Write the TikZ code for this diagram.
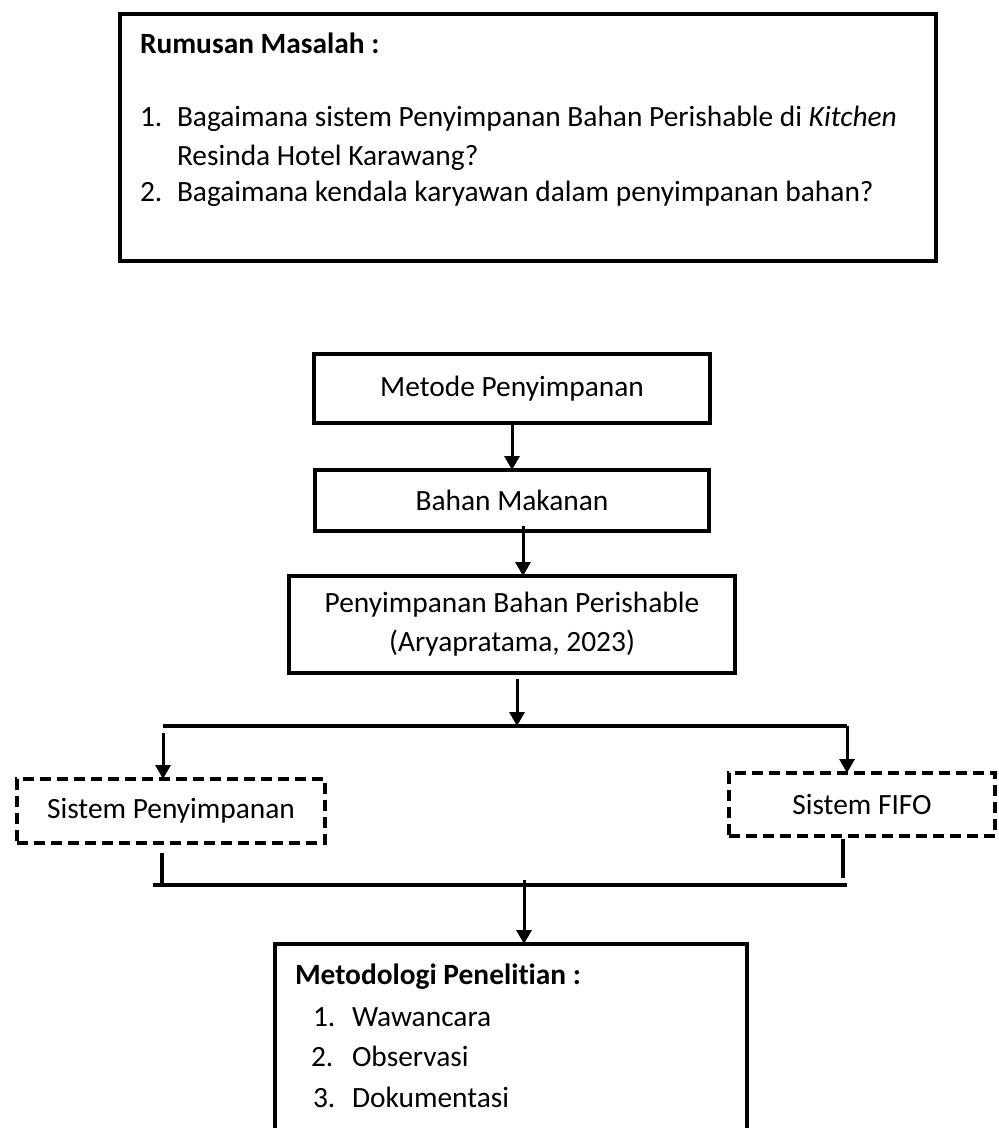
\documentclass[tikz,border=0pt]{standalone}
\usepackage{fontspec}
\setmainfont{Carlito}[Ligatures=NoCommon]
\usetikzlibrary{positioning,calc,arrows.meta}

\begin{document}
\begin{tikzpicture}[
        x=0.5pt, y=-0.5pt,
        every node/.style = {outer sep=0pt,font=\fontsize{14.7}{19.5}\selectfont},
        solidbox/.style = {draw,line width=2pt,inner sep=0pt,align=center},
        dashbox/.style = {solidbox,dash pattern=on 5.5pt off 3pt},
        textline/.style = {anchor=base west,inner sep=0pt},
        boldline/.style = {textline,font=\fontsize{14.7}{19.5}\selectfont\bfseries},
        arrowline/.style = {line width=1.5pt,-{Triangle[width=7.5pt,length=7pt]}},
        plainline/.style = {line width=1.8pt},
        ]
        \useasboundingbox (0,0) rectangle (998,1128);
        \clip (0,0) rectangle (998,1128);

        % rumusan masalah
        \node[solidbox,minimum width=408pt,minimum height=123.5pt] (box-rumusan) at (528,137.5) {};
        \node[boldline] (rumusan-title) at (140,54) {Rumusan Masalah :};
        \node[textline] (rumusan-no1) at (140,127) {1.};
        \node[textline] (rumusan-q1a) at (177,127) {Bagaimana sistem Penyimpanan Bahan Perishable di \textit{Kitchen}};
        \node[textline] (rumusan-q1b) at (177,166) {Resinda Hotel Karawang?};
        \node[textline] (rumusan-no2) at (140,202) {2.};
        \node[textline] (rumusan-q2) at (177,202) {Bagaimana kendala karyawan dalam penyimpanan bahan?};

        % alur utama
        \node[solidbox,minimum width=198pt,minimum height=34.5pt] (box-metode) at (512,388.5) {Metode Penyimpanan};
        \node[solidbox,minimum width=197pt,minimum height=30.5pt] (box-bahan) [below = 23.5pt of box-metode] {Bahan Makanan};
        \node[solidbox,minimum width=223pt,minimum height=48.5pt] (box-perishable) [below = 22.5pt of box-bahan] {Penyimpanan Bahan Perishable\\(Aryapratama, 2023)};
        \node[dashbox,minimum width=154pt,minimum height=32pt] (box-sistem) at (171,811) {Sistem Penyimpanan};
        \node[dashbox,minimum width=133pt,minimum height=31.5pt] (box-fifo) at (862,804.5) {Sistem FIFO};
        \node[solidbox,anchor=north,minimum width=236pt,minimum height=130pt] (box-metodologi) at (511,944) {};

        \node[boldline] (metodologi-title) at (295,984) {Metodologi Penelitian :};
        \node[textline] (metodologi-no1) at (313,1026) {1.};
        \node[textline] (metodologi-a) at (352,1026) {Wawancara};
        \node[textline] (metodologi-no2) at (311,1066) {2.};
        \node[textline] (metodologi-b) at (352,1066) {Observasi};
        \node[textline] (metodologi-no3) at (313,1107) {3.};
        \node[textline] (metodologi-c) at (352,1107) {Dokumentasi};

        \coordinate (split-left) at (163,726);
        \coordinate (split-right) at (847,726);
        \coordinate (drop-left) at (162,885);
        \coordinate (drop-right) at (843,885);
        \coordinate (join-left) at (153,885);
        \coordinate (join-right) at (847,885);
        \coordinate (merge) at (524,885);

        \draw[arrowline] (box-metode.south) -- (box-bahan.north);
        \draw[arrowline] ($(box-bahan.south)+(11,-5)$) -- ($(box-perishable.north)+(11,0)$);
        \draw[arrowline] ($(box-perishable.south)+(5,6)$) -- ($(box-perishable.south |- split-left)+(5,0)$);
        \draw[plainline] (split-left) -- (split-right);
        \draw[arrowline] ($(split-left)+(0,7)$) -- (split-left |- box-sistem.north);
        \draw[arrowline] (split-right) -- (split-right |- box-fifo.north);

        \draw[plainline] ($(box-sistem.south -| drop-left)+(0,10)$) -- (drop-left);
        \draw[plainline] ($(box-fifo.south -| drop-right)+(0,3)$) -- ($(drop-right)+(0,-7)$);
        \draw[plainline] (join-left) -- (join-right);
        \draw[arrowline] ($(merge)+(0,-5)$) -- (merge |- box-metodologi.north);
    \end{tikzpicture}
\end{document}
